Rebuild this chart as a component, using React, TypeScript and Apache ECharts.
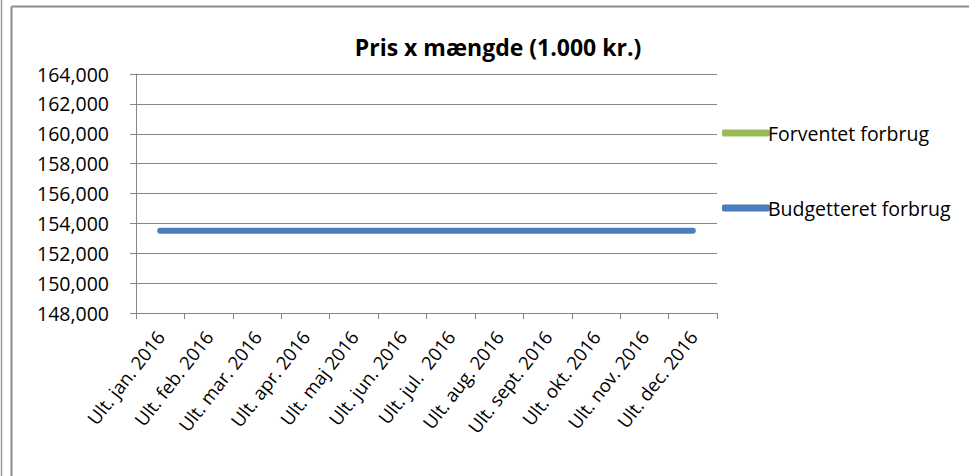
import React, { useEffect, useRef } from "react";
import * as echarts from "echarts";

const categories = [
  "Ult. jan. 2016",
  "Ult. feb. 2016",
  "Ult. mar. 2016",
  "Ult. apr. 2016",
  "Ult. maj 2016",
  "Ult. jun. 2016",
  "Ult. jul.  2016",
  "Ult. aug. 2016",
  "Ult. sept. 2016",
  "Ult. okt. 2016",
  "Ult. nov. 2016",
  "Ult. dec. 2016",
];
const forventet: (number | null)[] = [null, null, null, null, null, null, null, null, null, null, null, null];
const budgetteret = [153500, 153500, 153500, 153500, 153500, 153500, 153500, 153500, 153500, 153500, 153500, 153500];
const yMin = 148000;
const yMax = 164000;
const yStep = 2000;

const FONT = "'Open Sans', 'Liberation Sans', sans-serif";

export default function App() {
  const ref = useRef<HTMLDivElement>(null);
  useEffect(() => {
    document.body.style.margin = "0";
    const chart = echarts.init(ref.current!, null, { renderer: "svg" });
    chart.setOption({
      animation: false,
      backgroundColor: "#ffffff",
      title: {
        text: "Pris x mængde (1.000 kr.)",
        left: 493,
        top: 30,
        textAlign: "center",
        textStyle: { fontFamily: FONT, fontSize: 23, fontWeight: "bold", color: "#000" },
      },
      legend: {
        orient: "vertical",
        left: 717,
        top: 118,
        itemWidth: 48,
        itemHeight: 7,
        itemGap: 55,
        icon: "roundRect",
        textStyle: { fontFamily: FONT, fontSize: 19.5, color: "#000", padding: [0, 0, 0, -7] },
        data: ["Forventet forbrug", "Budgetteret forbrug"],
      },
      grid: { left: 136, right: 252, top: 74, bottom: 163, containLabel: false },
      xAxis: {
        type: "category",
        data: categories,
        boundaryGap: true,
        axisLine: { lineStyle: { color: "#868686", width: 1 } },
        axisTick: { show: true, length: 6, lineStyle: { color: "#868686" }, alignWithLabel: false },
        axisLabel: {
          rotate: 52,
          interval: 0,
          margin: 20,
          fontFamily: FONT,
          fontSize: 18.5,
          color: "#000",
        },
      },
      yAxis: {
        type: "value",
        min: yMin,
        max: yMax,
        interval: yStep,
        axisLine: { show: true, lineStyle: { color: "#868686", width: 1 } },
        axisTick: { show: true, length: 6, lineStyle: { color: "#868686" } },
        splitLine: { lineStyle: { color: "#868686", width: 1 } },
        axisLabel: {
          margin: 27,
          fontFamily: FONT,
          fontSize: 19.5,
          color: "#000",
          formatter: (v: number) => v.toLocaleString("en-US"),
        },
      },
      series: [
        {
          name: "Forventet forbrug",
          type: "line",
          data: forventet,
          showSymbol: false,
          symbol: "none",
          itemStyle: { color: "#9BBB59" },
          lineStyle: { color: "#9BBB59", width: 6, cap: "round" },
        },
        {
          name: "Budgetteret forbrug",
          type: "line",
          data: budgetteret,
          showSymbol: false,
          symbol: "none",
          itemStyle: { color: "#4A7EBB" },
          lineStyle: { color: "#4A7EBB", width: 6, cap: "round" },
        },
      ],
      graphic: [
        { type: "line", shape: { x1: 1.5, y1: 0, x2: 1.5, y2: 476 }, style: { stroke: "#9a9a9a", lineWidth: 1.5 } },
        { type: "line", shape: { x1: 11.5, y1: 6.5, x2: 11.5, y2: 476 }, style: { stroke: "#8c8c8c", lineWidth: 2 } },
        { type: "line", shape: { x1: 11.5, y1: 6.5, x2: 969, y2: 6.5 }, style: { stroke: "#8c8c8c", lineWidth: 2 } },
      ],
    });
    return () => chart.dispose();
  }, []);
  return <div ref={ref} style={{ width: 969, height: 476 }} />;
}
